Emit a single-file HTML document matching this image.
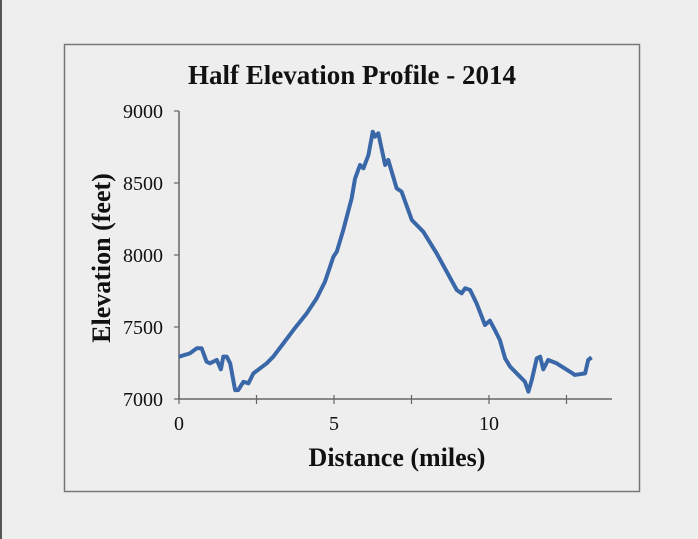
<!DOCTYPE html>
<html><head><meta charset="utf-8"><style>
html,body{margin:0;padding:0;background:#eeeeee;}
svg{display:block;}
text{font-family:"Liberation Serif",serif;fill:#111;}
</style></head><body>
<svg id="chart" width="698" height="539">
<line x1="1" y1="0" x2="1" y2="539" stroke="#555" stroke-width="2"/>
<rect x="64.5" y="44.5" width="575" height="447" fill="#eeeeee" stroke="#777" stroke-width="1.5"/>
<text x="352" y="84" text-anchor="middle" font-size="27" font-weight="bold">Half Elevation Profile - 2014</text>
<text transform="translate(110,258) rotate(-90)" text-anchor="middle" font-size="26" font-weight="bold">Elevation (feet)</text>
<text x="397" y="466" text-anchor="middle" font-size="26" font-weight="bold">Distance (miles)</text>
<g id="axes"></g>
<g id="series"></g>
</svg>
<script>
const xTicks=[0,5,10];
const xMinor=[2.5,7.5,12.5];
const yTicks=[7000,7500,8000,8500,9000];
const miles=[0,.35,.57,.73,.89,1.0,1.22,1.35,1.43,1.54,1.65,1.81,1.91,2.08,2.24,2.4,2.83,3.04,3.37,3.69,4.12,4.44,4.71,4.98,5.09,5.3,5.57,5.68,5.84,5.95,6.11,6.25,6.32,6.43,6.65,6.75,7.02,7.18,7.51,7.88,8.31,8.96,9.12,9.23,9.39,9.6,9.87,10.03,10.19,10.35,10.52,10.68,11.0,11.16,11.27,11.38,11.54,11.65,11.75,11.91,12.18,12.61,12.77,13.1,13.2,13.31];
const elev=[7294,7317,7352,7352,7259,7248,7271,7206,7294,7294,7248,7062,7062,7120,7109,7178,7248,7294,7387,7479,7595,7699,7815,7988,8023,8174,8394,8532,8625,8602,8694,8856,8822,8845,8625,8660,8463,8440,8243,8162,8012,7757,7734,7769,7757,7664,7514,7544,7479,7410,7282,7225,7155,7120,7051,7132,7282,7294,7206,7271,7248,7190,7167,7178,7271,7289];
const X=m=>179+m*31, Y=v=>399-(v-7000)*0.144;
const NS='http://www.w3.org/2000/svg';
const ax=document.getElementById('axes'), se=document.getElementById('series');
function mk(t,a,p){const e=document.createElementNS(NS,t);for(const k in a)e.setAttribute(k,a[k]);p.appendChild(e);return e;}
let l=mk('line',{x1:179,y1:Y(9000),x2:179,y2:399,stroke:'#666','stroke-width':1.5},ax);


l=mk('line',{x1:179,y1:399,x2:612,y2:399,stroke:'#666','stroke-width':1.5},ax);


yTicks.forEach(v=>{
 const t=mk('line',{x1:174,y1:Y(v),x2:179,y2:Y(v),stroke:'#666','stroke-width':1.2},ax);
 
 
 const s=mk('text',{x:163,y:Y(v)+7,'text-anchor':'end','font-size':20},ax);s.textContent=v;
 
 
});
xTicks.concat(xMinor).forEach(m=>{
 const t=mk('line',{x1:X(m),y1:395,x2:X(m),y2:404,stroke:'#666','stroke-width':1.2},ax);
 
 
});
xTicks.forEach(m=>{
 const s=mk('text',{x:X(m),y:430,'text-anchor':'middle','font-size':20},ax);s.textContent=m;
 
 
});
const p=mk('polyline',{points:miles.map((m,i)=>X(m)+','+Y(elev[i])).join(' '),fill:'none',stroke:'#3a67a8','stroke-width':4,'stroke-linejoin':'round'},se);


</script>
</body></html>
